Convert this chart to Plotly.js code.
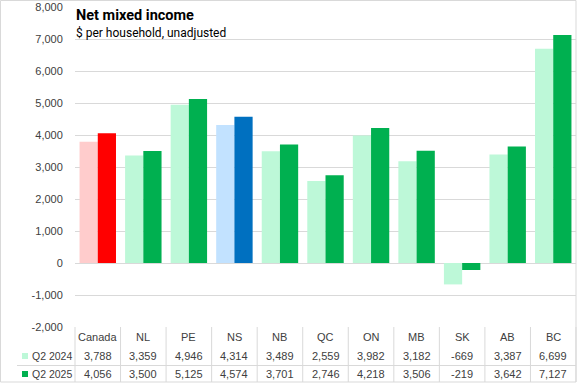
<!DOCTYPE html>
<html>
<head>
<meta charset="utf-8">
<script src="https://cdn.plot.ly/plotly-3.0.1.min.js"></script>
<style>html,body{margin:0;padding:0;background:#fff;}#chart{width:577px;height:385px;}</style>
</head>
<body>
<div id="chart"></div>
<script>
const categories = ["Canada","NL","PE","NS","NB","QC","ON","MB","SK","AB","BC"];
const seriesNames = ["Q2 2024","Q2 2025"];
const q2_2024 = [3788,3359,4946,4314,3489,2559,3982,3182,-669,3387,6699];
const q2_2025 = [4056,3500,5125,4574,3701,2746,4218,3506,-219,3642,7127];
const yTicks = [-2000,-1000,0,1000,2000,3000,4000,5000,6000,7000,8000];

const light = {Canada:"#FFCCCC", NS:"#C2E2FF"};
const dark = {Canada:"#FF0000", NS:"#0070C0"};
const lightGreen = "#BDF8D8", green = "#00B050";
const c1 = categories.map(c => light[c] || lightGreen);
const c2 = categories.map(c => dark[c] || green);

const W = 577, H = 385, L = 75, R = 576, T = 7, B = 327;
const X = px => (px - L) / (R - L);
const Y = py => (B - py) / (B - T);
const fmt = v => v.toLocaleString("en-US");
const font = "Liberation Sans, Arial, sans-serif";
const txt = "#404040";
const grid = "#D9D9D9";

const traces = [
  {type:"bar", name:seriesNames[0], x:categories, y:q2_2024, marker:{color:c1}, hoverinfo:"x+y"},
  {type:"bar", name:seriesNames[1], x:categories, y:q2_2025, marker:{color:c2}, hoverinfo:"x+y"}
];

const annotations = [
  {xref:"paper", yref:"paper", x:X(74), y:Y(16), xanchor:"left", yanchor:"middle", showarrow:false,
   text:"<b>Net mixed income</b>", font:{family:"Roboto, sans-serif", size:14.5, color:"#000"}},
  {xref:"paper", yref:"paper", x:X(74), y:Y(32.5), xanchor:"left", yanchor:"middle", showarrow:false,
   text:"$ per household, unadjusted", font:{family:"Roboto, sans-serif", size:12, color:"#000"}}
];
const shapes = [];
const rowY = [356, 374];
const rows = [q2_2024, q2_2025];
categories.forEach((c, i) => {
  annotations.push({xref:"x", yref:"paper", x:c, y:Y(337), showarrow:false, yanchor:"middle",
    text:c, font:{family:font, size:11, color:txt}});
  rows.forEach((r, k) => {
    annotations.push({xref:"x", yref:"paper", x:c, y:Y(rowY[k]), showarrow:false, yanchor:"middle",
      text:fmt(r[i]), font:{family:font, size:11, color:txt}});
  });
});
seriesNames.forEach((n, k) => {
  annotations.push({xref:"paper", yref:"paper", x:X(30), y:Y(rowY[k]), xanchor:"left", yanchor:"middle",
    showarrow:false, text:n, font:{family:font, size:10.5, color:txt}});
  shapes.push({type:"rect", xref:"paper", yref:"paper", x0:X(22), x1:X(28), y0:Y(rowY[k]-3), y1:Y(rowY[k]+3),
    line:{width:0}, fillcolor:k===0?lightGreen:green});
});
// table lines
for (let k = 0; k <= categories.length; k++) {
  shapes.push({type:"line", xref:"paper", yref:"paper", x0:k/categories.length, x1:k/categories.length,
    y0:Y(327), y1:Y(382), line:{color:grid, width:1}});
}
shapes.push({type:"line", xref:"paper", yref:"paper", x0:X(17), x1:X(576), y0:Y(365.5), y1:Y(365.5), line:{color:grid, width:1}});
// outer frame
shapes.push({type:"rect", xref:"paper", yref:"paper", x0:X(0.5), x1:X(576), y0:Y(0.5), y1:Y(382),
  line:{color:grid, width:1}, fillcolor:"rgba(0,0,0,0)"});

const layout = {
  width:W, height:H,
  margin:{l:L, r:W-R, t:T, b:H-B},
  paper_bgcolor:"#fff", plot_bgcolor:"#fff",
  showlegend:false,
  barmode:"group", bargap:0.2, bargroupgap:0,
  xaxis:{type:"category", range:[-0.5,10.5], showticklabels:false, showgrid:false, zeroline:false, ticks:"", fixedrange:true},
  yaxis:{range:[-2000,8000], tickvals:yTicks, ticktext:yTicks.map(fmt), showgrid:true, gridcolor:grid, gridwidth:1,
    zeroline:true, zerolinecolor:grid, zerolinewidth:1, ticks:"outside", ticklen:9, tickcolor:"rgba(0,0,0,0)",
    tickfont:{family:font, size:11, color:txt}, fixedrange:true},
  annotations, shapes
};
Plotly.newPlot("chart", traces, layout, {displayModeBar:false, staticPlot:true});
</script>
</body>
</html>
